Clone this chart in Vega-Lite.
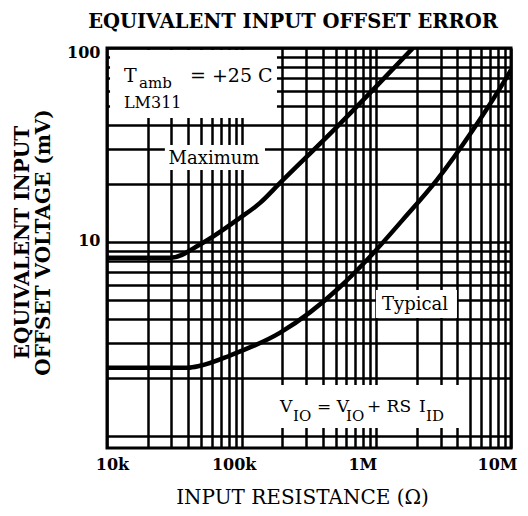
{
  "$schema": "https://vega.github.io/schema/vega-lite/v6.json",
  "width": 404,
  "height": 400,
  "autosize": {"type": "none"},
  "padding": {"left": 107, "top": 48, "right": 17, "bottom": 68},
  "background": "white",
  "config": {
    "font": "DejaVu Serif",
    "view": {"stroke": "black", "strokeWidth": 3}
  },
  "title": {
    "text": "EQUIVALENT INPUT OFFSET ERROR",
    "font": "DejaVu Serif",
    "fontSize": 19.5,
    "fontWeight": "bold",
    "color": "black",
    "anchor": "middle",
    "dx": -16,
    "baseline": "alphabetic",
    "offset": -3
  },
  "datasets": {
    "curves": [
      {"r": 10000, "v": 8.3, "series": "Maximum"},
      {"r": 30000, "v": 8.3, "series": "Maximum"},
      {"r": 49000, "v": 9.7, "series": "Maximum"},
      {"r": 97000, "v": 13.3, "series": "Maximum"},
      {"r": 137000, "v": 15.9, "series": "Maximum"},
      {"r": 192000, "v": 20.1, "series": "Maximum"},
      {"r": 510000, "v": 39.2, "series": "Maximum"},
      {"r": 944000, "v": 60.8, "series": "Maximum"},
      {"r": 1870000, "v": 100, "series": "Maximum"},
      {"r": 10000, "v": 2.25, "series": "Typical"},
      {"r": 40000, "v": 2.25, "series": "Typical"},
      {"r": 49000, "v": 2.3, "series": "Typical"},
      {"r": 82000, "v": 2.6, "series": "Typical"},
      {"r": 192000, "v": 3.4, "series": "Typical"},
      {"r": 537000, "v": 5.86, "series": "Typical"},
      {"r": 851000, "v": 8.07, "series": "Typical"},
      {"r": 1570000, "v": 13.0, "series": "Typical"},
      {"r": 2820000, "v": 20.9, "series": "Typical"},
      {"r": 5210000, "v": 37.8, "series": "Typical"},
      {"r": 9330000, "v": 71, "series": "Typical"},
      {"r": 10000000, "v": 77, "series": "Typical"}
    ],
    "boxes": [
      {"r1": 10530, "r2": 182900, "v1": 43.6, "v2": 97.7},
      {"r1": 26900, "r2": 149000, "v1": 23.5, "v2": 31.6},
      {"r1": 994000, "r2": 3970000, "v1": 4.06, "v2": 5.66},
      {"r1": 168000, "r2": 4550000, "v1": 1.1, "v2": 1.83}
    ],
    "notes": [
      {"r": 13370, "v": 66.8, "text": "T", "role": "big"},
      {"r": 17280, "v": 62.0, "text": "amb", "role": "sub"},
      {"r": 41300, "v": 66.8, "text": "= +25 C", "role": "big"},
      {"r": 13370, "v": 48.8, "text": "LM311", "role": "lm"},
      {"r": 192600, "v": 1.33, "text": "V", "role": "main"},
      {"r": 240500, "v": 1.2, "text": "IO", "role": "sub"},
      {"r": 362500, "v": 1.33, "text": "= V", "role": "main"},
      {"r": 595000, "v": 1.2, "text": "IO", "role": "sub"},
      {"r": 852000, "v": 1.33, "text": "+ RS", "role": "main"},
      {"r": 2074000, "v": 1.33, "text": "I", "role": "main"},
      {"r": 2338000, "v": 1.2, "text": "ID", "role": "sub"}
    ],
    "labels": [
      {"r": 62300, "v": 25.2, "text": "Maximum"},
      {"r": 1936000, "v": 4.46, "text": "Typical"}
    ]
  },
  "layer": [
    {
      "data": {"name": "boxes"},
      "mark": {"type": "rect", "color": "white"},
      "encoding": {
        "x": {
          "field": "r1", "type": "quantitative",
          "scale": {"type": "log", "domain": [10000, 10000000], "nice": false},
          "axis": {
            "values": [10000, 20000, 30000, 40000, 50000, 60000, 70000, 80000, 90000, 100000, 200000, 300000, 400000, 500000, 600000, 700000, 800000, 900000, 1000000, 2000000, 3000000, 4000000, 5000000, 6000000, 7000000, 8000000, 9000000, 10000000],
            "labelExpr": "datum.value == 10000 ? '10k' : datum.value == 100000 ? '100k' : datum.value == 1000000 ? '1M' : datum.value == 10000000 ? '10M' : ''",
            "labelFont": "DejaVu Serif",
            "labelFontSize": 16,
            "labelFontWeight": "bold",
            "labelColor": "black",
            "labelFlush": false,
            "labelBound": false,
            "labelOverlap": false,
            "labelPadding": 8,
            "labelOffset": {"condition": [{"test": "datum.value == 10000", "value": 5}, {"test": "datum.value == 100000", "value": -8}], "value": -14},
            "ticks": false,
            "tickSize": 0,
            "domain": false,
            "grid": true,
            "gridColor": "black",
            "gridWidth": 2.5,
            "gridOpacity": 1,
            "title": "INPUT RESISTANCE (Ω)",
            "titleFont": "DejaVu Serif",
            "titleFontSize": 20,
            "titleFontWeight": "normal",
            "titleColor": "black",
            "titleBaseline": "alphabetic",
            "titleX": 195,
            "titleY": 55
          }
        },
        "x2": {"field": "r2"},
        "y": {
          "field": "v1", "type": "quantitative",
          "scale": {"type": "log", "domain": [0.867, 100], "nice": false},
          "axis": {
            "values": [1, 2, 3, 4, 5, 6, 7, 8, 9, 10, 20, 30, 40, 50, 60, 70, 80, 90, 100],
            "format": "d",
            "labelExpr": "datum.value == 10 || datum.value == 100 ? datum.label : ''",
            "labelFont": "DejaVu Serif",
            "labelFontSize": 16,
            "labelFontWeight": "bold",
            "labelColor": "black",
            "labelFlush": false,
            "labelBound": false,
            "labelOverlap": false,
            "labelPadding": 7,
            "labelOffset": {"condition": {"test": "datum.value == 100", "value": 4}, "value": -1},
            "ticks": false,
            "tickSize": 0,
            "domain": false,
            "grid": true,
            "gridColor": "black",
            "gridWidth": 2.5,
            "gridOpacity": 1,
            "title": ["EQUIVALENT INPUT", "OFFSET VOLTAGE (mV)"],
            "titleFont": "DejaVu Serif",
            "titleFontSize": 20,
            "titleFontWeight": "bold",
            "titleColor": "black",
            "titleLineHeight": 21,
            "titleAngle": -90,
            "titleAlign": "center",
            "titleBaseline": "middle",
            "titleX": -85,
            "titleY": 194
          }
        },
        "y2": {"field": "v2"}
      }
    },
    {
      "data": {"name": "curves"},
      "mark": {"type": "line", "color": "black", "strokeWidth": 4.5, "interpolate": "monotone", "clip": true},
      "encoding": {
        "x": {"field": "r", "type": "quantitative"},
        "y": {"field": "v", "type": "quantitative"},
        "detail": {"field": "series"}
      }
    },
    {
      "data": {"name": "labels"},
      "mark": {"type": "text", "font": "DejaVu Serif", "fontSize": 18, "align": "center", "baseline": "alphabetic", "color": "black"},
      "encoding": {
        "x": {"field": "r", "type": "quantitative"},
        "y": {"field": "v", "type": "quantitative"},
        "text": {"field": "text"}
      }
    },
    {
      "data": {"name": "notes"},
      "transform": [{"filter": "datum.role == 'big'"}],
      "mark": {"type": "text", "font": "DejaVu Serif", "fontSize": 19, "align": "left", "baseline": "alphabetic", "color": "black"},
      "encoding": {
        "x": {"field": "r", "type": "quantitative"},
        "y": {"field": "v", "type": "quantitative"},
        "text": {"field": "text"}
      }
    },
    {
      "data": {"name": "notes"},
      "transform": [{"filter": "datum.role == 'lm'"}],
      "mark": {"type": "text", "font": "DejaVu Serif", "fontSize": 16, "align": "left", "baseline": "alphabetic", "color": "black"},
      "encoding": {
        "x": {"field": "r", "type": "quantitative"},
        "y": {"field": "v", "type": "quantitative"},
        "text": {"field": "text"}
      }
    },
    {
      "data": {"name": "notes"},
      "transform": [{"filter": "datum.role == 'main'"}],
      "mark": {"type": "text", "font": "DejaVu Serif", "fontSize": 17, "align": "left", "baseline": "alphabetic", "color": "black"},
      "encoding": {
        "x": {"field": "r", "type": "quantitative"},
        "y": {"field": "v", "type": "quantitative"},
        "text": {"field": "text"}
      }
    },
    {
      "data": {"name": "notes"},
      "transform": [{"filter": "datum.role == 'sub'"}],
      "mark": {"type": "text", "font": "DejaVu Serif", "fontSize": 15, "align": "left", "baseline": "alphabetic", "color": "black"},
      "encoding": {
        "x": {"field": "r", "type": "quantitative"},
        "y": {"field": "v", "type": "quantitative"},
        "text": {"field": "text"}
      }
    }
  ]
}
